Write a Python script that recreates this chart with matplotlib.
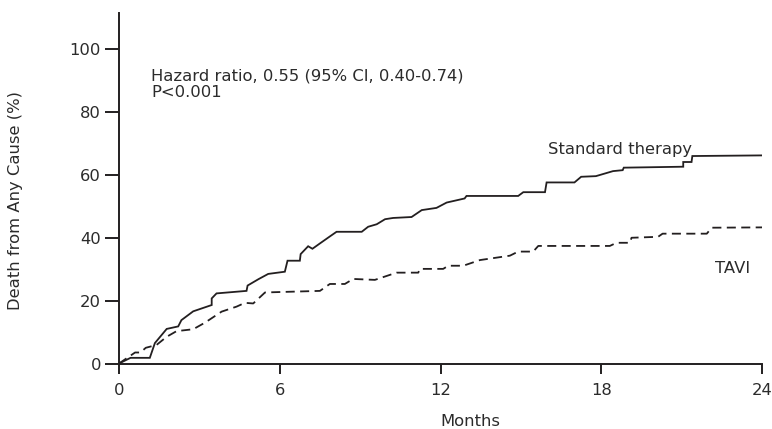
import matplotlib
matplotlib.use("Agg")
import matplotlib.pyplot as plt

plt.rcParams['font.family'] = ['DejaVu Sans']

# Standard therapy (solid) – months, cumulative death %
std_months = [0, 0.43, 1.15, 1.34, 1.78, 2.21, 2.33, 2.77, 3.46, 3.46, 3.64, 4.76, 4.8,
              5.2, 5.57, 6.19, 6.29, 6.75, 6.78, 7.06, 7.22, 7.5, 7.85, 8.12, 9.06,
              9.3, 9.62, 9.93, 10.23, 10.92, 11.3, 11.85, 12.23, 12.9, 12.97, 14.9,
              15.09, 15.9, 15.96, 17.0, 17.25, 17.8, 18.44, 18.8, 18.84, 21.06, 21.06,
              21.37, 21.4, 24.0]
std_death = [0, 1.8, 1.8, 6.5, 11.0, 11.8, 13.8, 16.6, 18.6, 20.7, 22.3, 23.1, 24.8,
             26.8, 28.5, 29.2, 32.7, 32.7, 34.8, 37.3, 36.5, 38.2, 40.3, 41.9, 41.9,
             43.5, 44.3, 45.9, 46.3, 46.6, 48.8, 49.5, 51.2, 52.5, 53.3, 53.3,
             54.5, 54.5, 57.6, 57.6, 59.4, 59.6, 61.2, 61.5, 62.3, 62.6, 64.1,
             64.1, 66.0, 66.2]

# TAVI (dashed)
tavi_months = [0, 0.6, 0.8, 1.0, 1.4, 1.78, 2.15, 2.77, 3.21, 3.83, 4.39, 4.7, 5.01,
               5.45, 7.5, 7.87, 8.43, 8.74, 9.55, 10.36, 11.17, 11.23, 12.1, 12.29,
               12.85, 13.47, 14.59, 14.9, 15.46, 15.65, 18.32, 18.57, 19.07, 19.13,
               20.12, 20.29, 21.94, 22.12, 24.0]
tavi_death = [0, 3.5, 3.5, 5.0, 5.9, 8.5, 10.3, 10.9, 13.0, 16.5, 18.1, 19.3, 19.1,
              22.6, 23.1, 25.3, 25.3, 26.9, 26.6, 28.9, 28.9, 30.1, 30.1, 31.1,
              31.1, 32.9, 34.3, 35.6, 35.6, 37.4, 37.4, 38.4, 38.4, 40.0,
              40.3, 41.3, 41.3, 43.2, 43.3]

x_ticks = [0, 6, 12, 18, 24]
y_ticks = [0, 20, 40, 60, 80, 100]

line_col = '#231f20'
text_col = '#2b2b2b'
fs = 11.8

fig = plt.figure(figsize=(7.72, 4.29), dpi=100)
ax = fig.add_axes([119/772, 1 - 363.5/429, 643/772, 350.5/429])

ax.plot(std_months, std_death, color=line_col, lw=1.3, solid_joinstyle='miter')
l2, = ax.plot(tavi_months, tavi_death, color=line_col, lw=1.3)
l2.set_dashes((5.0, 3.0))

ax.set_xlim(0, 24)
ax.set_ylim(0, 111.5)
ax.set_xticks(x_ticks)
ax.set_yticks(y_ticks)
ax.set_xticklabels([str(v) for v in x_ticks])
ax.set_yticklabels([str(v) for v in y_ticks])

for s in ['top', 'right']:
    ax.spines[s].set_visible(False)
for s in ['left', 'bottom']:
    ax.spines[s].set_linewidth(1.4)
    ax.spines[s].set_color(line_col)

ax.tick_params(axis='y', length=10, width=1.4, color=line_col, pad=3,
               labelsize=fs, labelcolor=text_col)
ax.tick_params(axis='x', length=7, width=1.4, color=line_col, pad=7,
               labelsize=fs, labelcolor=text_col)

ax.text(1.19, 89.9, 'Hazard ratio, 0.55 (95% CI, 0.40-0.74)', fontsize=fs,
        color=text_col, va='baseline', ha='left')
ax.text(1.19, 84.9, 'P<0.001', fontsize=fs, color=text_col, va='baseline', ha='left')
ax.text(16.02, 66.8, 'Standard therapy', fontsize=fs, color=text_col,
        va='baseline', ha='left')
ax.text(22.25, 28.9, 'TAVI', fontsize=fs, color=text_col, va='baseline', ha='left')

fig.text(470/772, 1 - 426.5/429, 'Months', fontsize=fs, color=text_col,
         ha='center', va='baseline')
fig.text(16/772, 1 - 200/429, 'Death from Any Cause (%)', fontsize=fs,
         color=text_col, ha='center', va='center', rotation=90)

fig.savefig('out.png', dpi=100)
